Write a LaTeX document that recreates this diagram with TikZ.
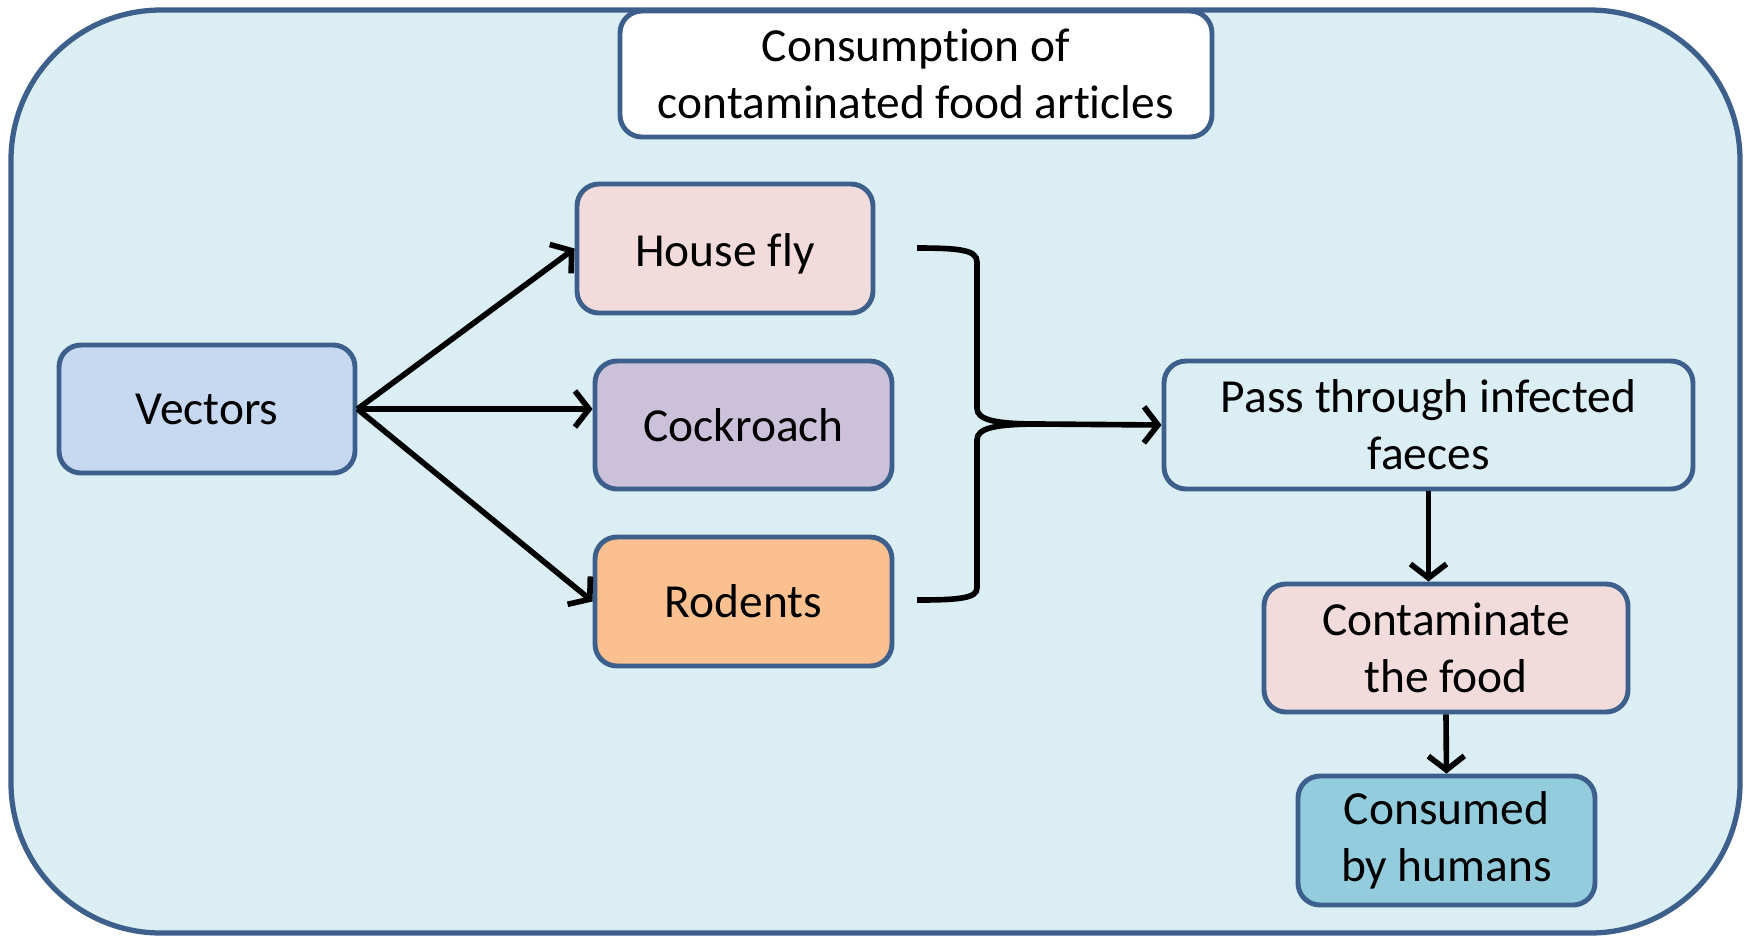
\documentclass[tikz,border=0pt]{standalone}
\usepackage{fontspec}
\setmainfont[Ligatures=NoCommon]{Carlito}
\usetikzlibrary{arrows.meta,calc}
\definecolor{bgblue}{HTML}{DBEEF4}
\definecolor{edgeblue}{HTML}{3D5F8C}
\definecolor{flypink}{HTML}{F2DCDB}
\definecolor{vecblue}{HTML}{C6D9F1}
\definecolor{roachlilac}{HTML}{CCC1DA}
\definecolor{rodorange}{HTML}{FAC090}
\definecolor{eatblue}{HTML}{93CDDD}
\begin{document}
\begin{tikzpicture}[
	box/.style={draw=edgeblue,line width=1.4pt,rounded corners=0.22cm,align=center,
		font=\fontsize{13.5}{16.2}\selectfont,inner sep=0pt},
	link/.style={line width=1.6pt,-{Straight Barb[length=1.4mm,width=3.6mm]}}]
		\useasboundingbox (0,0) rectangle (17.51,-9.37);
		\draw[edgeblue,fill=bgblue,line width=1.5pt,rounded corners=1.5cm] (0.11,-0.10) rectangle (17.40,-9.33);
		
		\node[box,fill=white,minimum width=5.92cm,minimum height=1.26cm] (title) at (9.16,-0.74) {Consumpt\kern0pt ion of\\contaminated food art\kern0pt icles};
		\node[box,fill=vecblue,minimum width=2.96cm,minimum height=1.28cm] (vec) at (2.07,-4.09) {Vectors};
		\node[box,fill=flypink,minimum width=2.96cm,minimum height=1.29cm] (fly) at (7.25,-2.485) {\raisebox{-0.5mm}[\height][\depth]{House f\kern0pt ly}};
		\node[box,fill=roachlilac,minimum width=2.97cm,minimum height=1.28cm] (roach) at (7.435,-4.25) {Cockroach};
		\node[box,fill=rodorange,minimum width=2.97cm,minimum height=1.29cm] (rodent) at (7.435,-6.015) {Rodents};
		\node[box,fill=bgblue,minimum width=5.29cm,minimum height=1.28cm] (pass) at (14.285,-4.25) {Pass through infected\\faeces};
		\node[box,fill=flypink,minimum width=3.64cm,minimum height=1.28cm] (contam) at (14.46,-6.48) {Contaminate\\the food};
		\node[box,fill=eatblue,minimum width=2.97cm,minimum height=1.29cm] (eat) at (14.465,-8.405) {Consumed\\by humans};
		
		\draw[link] (vec.east) -- (fly.west);
		\draw[link] (vec.east) -- (roach.west |- vec.east);
		\draw[link] (vec.east) -- (rodent.west);
		
		% brace joining the three vectors
		\coordinate (btop) at (9.17,-2.48);
		\coordinate (bbot) at (9.17,-6.00);
		\coordinate (bmid) at (10.40,-4.24);
		\draw[line width=1.6pt] (btop) .. controls (9.60,-2.48) and (9.77,-2.50) .. (9.77,-2.62) -- (9.77,-4.08)
			.. controls (9.77,-4.20) and (9.95,-4.24) .. (bmid);
		\draw[line width=1.6pt] (bmid) .. controls (9.95,-4.24) and (9.77,-4.28) .. (9.77,-4.40) -- (9.77,-5.88)
			.. controls (9.77,-5.98) and (9.60,-6.00) .. (bbot);
		\draw[link] (bmid) -- (pass.west);
		
		\draw[link] (pass.south) -- (pass.south |- contam.north);
		\draw[link] (contam.south) -- (eat.north);
		
		\end{tikzpicture}
\end{document}
